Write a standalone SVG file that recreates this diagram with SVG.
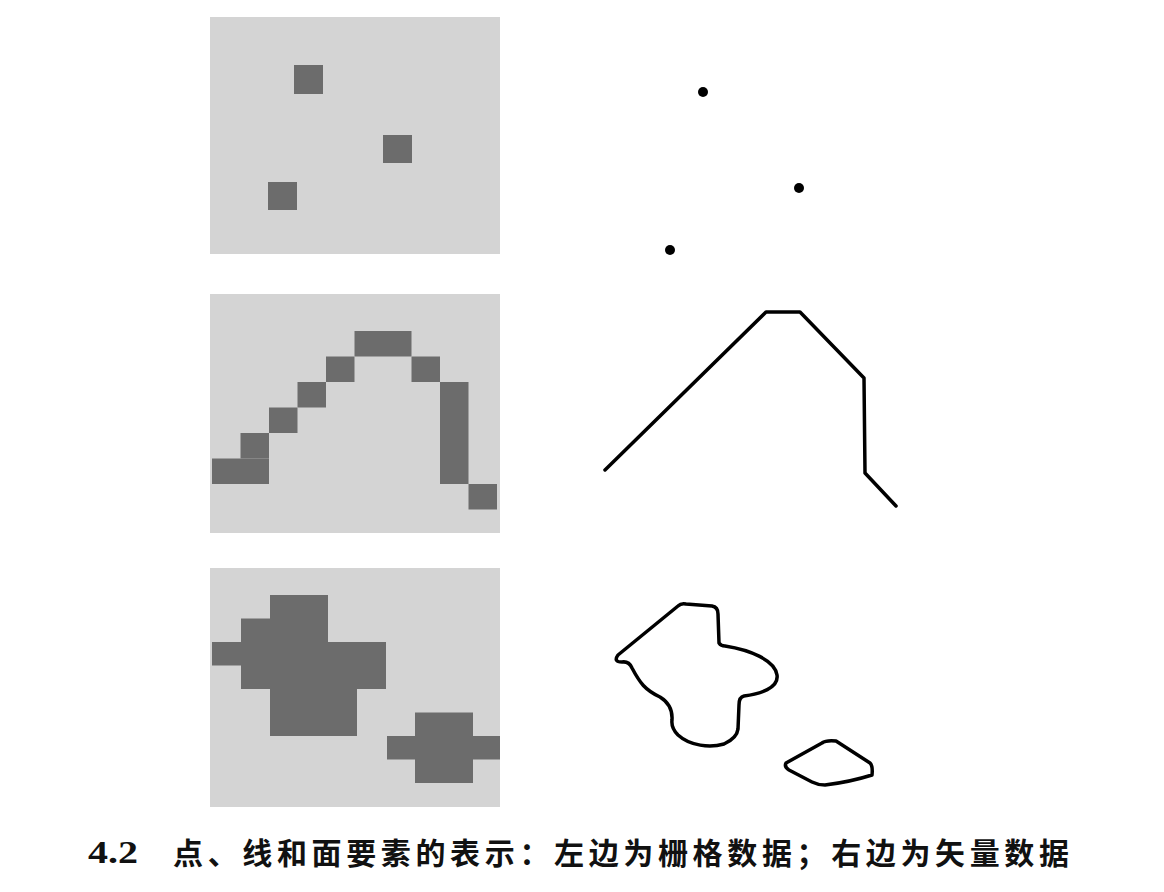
<svg xmlns="http://www.w3.org/2000/svg" width="1164" height="892" viewBox="0 0 1164 892">
<style>
.bg{fill:#d4d4d4}
.cell{fill:#6c6c6c}
.vec{fill:none;stroke:#000;stroke-width:3.5;stroke-linejoin:round;stroke-linecap:round}
.dot{fill:#000}
.cap{font-family:"Noto Sans CJK SC","Noto Sans CJK JP",sans-serif;font-size:30px;font-weight:700;fill:#111}
.num{font-family:"Liberation Serif",serif;font-size:32px;font-weight:700;fill:#111}
</style>
<rect width="1164" height="892" fill="#fff"/>
<g id="raster-points">
<rect class="bg" x="210" y="17" width="290" height="237"/>
<rect class="cell" x="294" y="65" width="29" height="29"/>
<rect class="cell" x="383" y="135" width="29" height="28"/>
<rect class="cell" x="268" y="182" width="29" height="28"/>
</g>
<g id="raster-line">
<rect class="bg" x="210" y="294" width="290" height="239"/>
<rect class="cell" x="212" y="458.5" width="57" height="25.5"/>
<rect class="cell" x="240.5" y="433" width="28.5" height="25.5"/>
<rect class="cell" x="269" y="407.5" width="28.5" height="25.5"/>
<rect class="cell" x="297.5" y="382" width="28.5" height="25.5"/>
<rect class="cell" x="326" y="356.5" width="28.5" height="25.5"/>
<rect class="cell" x="354.5" y="331" width="57" height="25.5"/>
<rect class="cell" x="411.5" y="356.5" width="28.5" height="25.5"/>
<rect class="cell" x="440" y="382" width="28.5" height="102"/>
<rect class="cell" x="468.5" y="484" width="28.5" height="25.5"/>
</g>
<g id="raster-areas">
<rect class="bg" x="210" y="568" width="290" height="239"/>
<path class="cell" d="M270,595 L328,595 L328,642 L386,642 L386,689 L357,689 L357,736 L270,736 L270,689 L241,689 L241,665.5 L212,665.5 L212,642 L241,642 L241,618.5 L270,618.5 Z"/>
<path class="cell" d="M415,712.5 L473,712.5 L473,736 L500,736 L500,759.5 L473,759.5 L473,783 L415,783 L415,759.5 L387,759.5 L387,736 L415,736 Z"/>
</g>
<g id="vector-points">
<circle class="dot" cx="703" cy="92" r="5"/>
<circle class="dot" cx="799" cy="188" r="5"/>
<circle class="dot" cx="670" cy="250" r="5"/>
</g>
<g id="vector-line">
<polyline class="vec" points="605,470 766,312 800,312 864,378 865,473 896,506"/>
</g>
<g id="vector-areas">
<path class="vec" d="M618,655 L678,606 Q681,603 686,604 L712,606 Q718,607 718,614 L719,643 Q721,646 725,646 C750,650 775,660 777,675 C779,688 760,694 744,696 Q739,697 739,705 L738,729 Q737,738 724,744 C710,748 690,746 678,735 Q671,728 672,720 Q673,705 660,697 C645,690 640,683 632,668 Q629,661 622,662 Q613,662 618,655 Z"/>
<path class="vec" d="M786,763 L822,743 Q826,740 836,741 L870,763 Q873,766 872,775 Q850,782 825,785 Q818,785 812,782 L789,770 Q784,767 786,763 Z"/>
</g>
<g id="caption">
<text class="num" x="88" y="863" textLength="50" lengthAdjust="spacingAndGlyphs">4.2</text>
<text class="cap" x="173" y="864" textLength="896" lengthAdjust="spacing">点、线和面要素的表示：左边为栅格数据；右边为矢量数据</text>
</g>
</svg>
